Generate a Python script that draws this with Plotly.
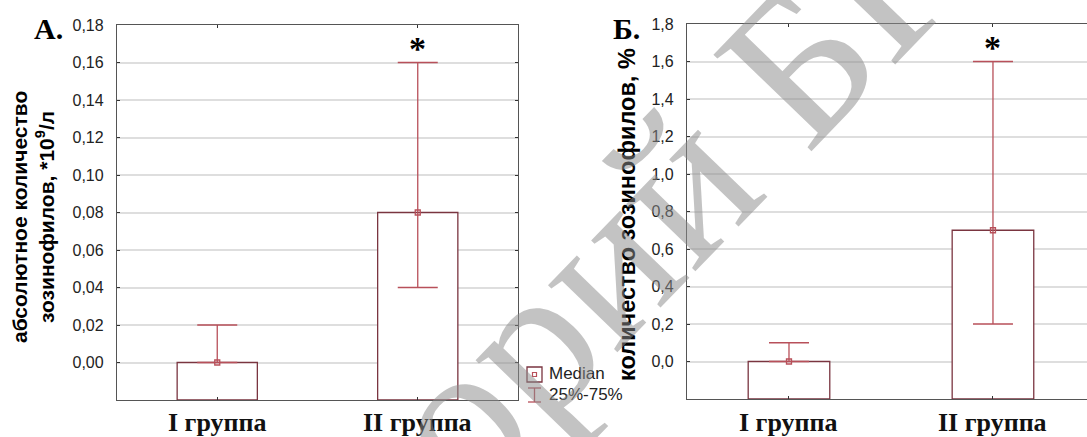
import plotly.graph_objects as go

# ---------------- data ----------------
groups = ["I группа", "II группа"]
group_pos = [0, 1]

abs_median = [0.00, 0.08]
abs_q25 = [0.00, 0.04]
abs_q75 = [0.02, 0.16]
abs_range = [-0.02, 0.18]
abs_ticks = [0.00, 0.02, 0.04, 0.06, 0.08, 0.10, 0.12, 0.14, 0.16, 0.18]

pct_median = [0.0, 0.7]
pct_q25 = [0.0, 0.2]
pct_q75 = [0.1, 1.6]
pct_range = [-0.2, 1.8]
pct_ticks = [0.0, 0.2, 0.4, 0.6, 0.8, 1.0, 1.2, 1.4, 1.6, 1.8]

signif = ["", "*"]

# ---------------- style ----------------
W, H = 1087, 437
BAR_LINE = "#7a3540"
WHISK = "#b8505a"
AXIS = "#555555"
GRID = "#dedede"
SANS = "Liberation Sans, Arial, sans-serif"
SERIF = "Liberation Serif, Times New Roman, serif"

fig = go.Figure()


def px(xp):
    return xp / W


def py(yp):
    return 1 - yp / H


def add_panel(xref, yref, med, q25, q75, yr):
    base = yr[0]
    fig.add_trace(go.Bar(
        x=group_pos, y=[m - base for m in med], base=base,
        width=0.4, marker=dict(color="white", line=dict(color=BAR_LINE, width=1.3)),
        xaxis=xref, yaxis=yref, showlegend=False, hoverinfo="skip"))
    fig.add_trace(go.Scatter(
        x=group_pos, y=med, mode="markers",
        marker=dict(symbol="square-open", size=5, color=WHISK, line=dict(width=1.3)),
        error_y=dict(type="data", symmetric=False,
                     array=[a - m for a, m in zip(q75, med)],
                     arrayminus=[m - b for m, b in zip(med, q25)],
                     color=WHISK, thickness=1.3, width=20),
        xaxis=xref, yaxis=yref, showlegend=False, hoverinfo="skip"))
    for gp, s, top in zip(group_pos, signif, q75):
        if s:
            fig.add_annotation(x=gp, y=top, xref=xref, yref=yref, text="<b>" + s + "</b>",
                               showarrow=False, yanchor="bottom", yshift=-6,
                               font=dict(family=SERIF, size=34, color="black"))
    # category labels
    for gp, g in zip(group_pos, groups):
        fig.add_annotation(x=gp, y=py(422), xref=xref, yref="paper", text="<b>" + g + "</b>",
                           showarrow=False, xanchor="center", yanchor="middle",
                           font=dict(family=SERIF, size=26, color="#111"))


add_panel("x", "y", abs_median, abs_q25, abs_q75, abs_range)
add_panel("x2", "y2", pct_median, pct_q25, pct_q75, pct_range)

xcommon = dict(tickvals=group_pos, showticklabels=False, showgrid=False, zeroline=False,
               showline=True, linecolor=AXIS, linewidth=1.3, ticks="inside", ticklen=3,
               tickcolor="#333", mirror="ticks", automargin=False)
ycommon = dict(showgrid=True, gridcolor=GRID, gridwidth=1.5, zeroline=False,
               showline=True, linecolor=AXIS, linewidth=1.3, ticks="inside", ticklen=3,
               tickcolor="#333", ticklabelstandoff=9, automargin=False,
               tickfont=dict(family=SANS, size=16, color="#222"))

fig.update_layout(
    width=W, height=H, margin=dict(l=0, r=0, t=0, b=0, autoexpand=False),
    paper_bgcolor="white", plot_bgcolor="white", separators=", ",
    xaxis=dict(domain=[117 / W, 518 / W], range=[-0.5, 1.5], anchor="y", **xcommon),
    yaxis=dict(domain=[1 - 400 / H, 1 - 25 / H], range=abs_range, tickvals=abs_ticks,
               tickformat=".2f", anchor="x", mirror="ticks", **ycommon),
    xaxis2=dict(domain=[687 / W, 1.0], range=[-0.5, 1.461], anchor="y2", **xcommon),
    yaxis2=dict(domain=[1 - 399 / H, 1 - 24 / H], range=pct_range, tickvals=pct_ticks,
                tickformat=".1f", anchor="x2", mirror=False, **ycommon),
)

# axis titles
fig.add_annotation(x=33 / W, y=1 - 217 / H, xref="paper", yref="paper",
                   xanchor="center", yanchor="middle",
                   text="<b>абсолютное количество<br>зозинофилов, *10<sup>9</sup>/л</b>",
                   textangle=-90, showarrow=False, align="center",
                   font=dict(family=SANS, size=21, color="black"))
fig.add_annotation(x=627 / W, y=1 - 215 / H, xref="paper", yref="paper",
                   xanchor="center", yanchor="middle",
                   text="<b>количество зозинофилов, %</b>",
                   textangle=-90, showarrow=False,
                   font=dict(family=SANS, size=23.5, color="black"))

# panel letters
fig.add_annotation(x=48 / W, y=1 - 28 / H, xref="paper", yref="paper", text="<b>А.</b>",
                   xanchor="center", yanchor="middle",
                   showarrow=False, font=dict(family=SERIF, size=30, color="black"))
fig.add_annotation(x=626 / W, y=1 - 28 / H, xref="paper", yref="paper", text="<b>Б.</b>",
                   xanchor="center", yanchor="middle",
                   showarrow=False, font=dict(family=SERIF, size=30, color="black"))

# legend (drawn manually)
fig.add_shape(type="rect", xref="paper", yref="paper", x0=px(527), x1=px(542),
              y0=py(382), y1=py(367), line=dict(color=BAR_LINE, width=1.3), fillcolor="white")
fig.add_shape(type="rect", xref="paper", yref="paper", x0=px(532.5), x1=px(536.5),
              y0=py(376.5), y1=py(372.5), line=dict(color=WHISK, width=1.2), fillcolor="white")
fig.add_shape(type="line", xref="paper", yref="paper", x0=px(534.5), x1=px(534.5),
              y0=py(388), y1=py(402), line=dict(color=WHISK, width=1.3))
fig.add_shape(type="line", xref="paper", yref="paper", x0=px(528), x1=px(541),
              y0=py(388), y1=py(388), line=dict(color=WHISK, width=1.3))
fig.add_shape(type="line", xref="paper", yref="paper", x0=px(528), x1=px(541),
              y0=py(402), y1=py(402), line=dict(color=WHISK, width=1.3))
fig.add_annotation(x=px(547), y=py(373), xref="paper", yref="paper", text="Median",
                   xanchor="left", yanchor="middle", showarrow=False,
                   font=dict(family=SANS, size=17, color="#222"))
fig.add_annotation(x=px(547), y=py(394), xref="paper", yref="paper", text="25%-75%",
                   xanchor="left", yanchor="middle", showarrow=False,
                   font=dict(family=SANS, size=17, color="#222"))

# watermark
fig.add_annotation(x=px(540), y=py(330), xref="paper", yref="paper",
                   xanchor="center", yanchor="middle",
                   text="Репозиторий БГМУ", textangle=-46, showarrow=False,
                   font=dict(family=SERIF, size=210, color="rgba(140,140,140,0.52)"))

fig.write_html("out.html", config={"displayModeBar": False},
               post_script="document.body.style.margin='0px';")
